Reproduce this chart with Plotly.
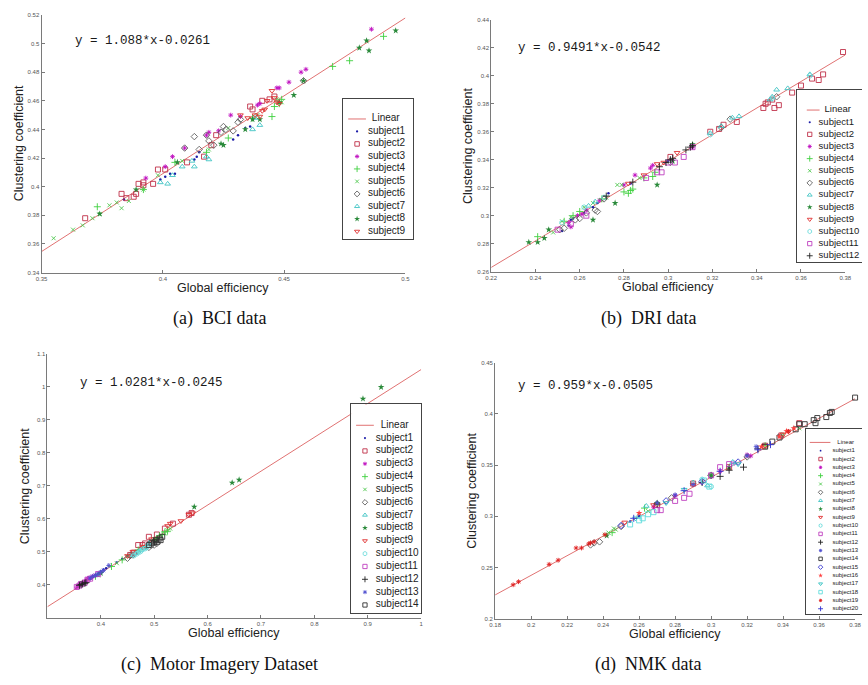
import plotly.graph_objects as go

FIG_W, FIG_H = 868, 685

# ---------------- data: (a) BCI data ----------------
BCI_NAMES = ["subject1", "subject2", "subject3", "subject4", "subject5",
             "subject6", "subject7", "subject8", "subject9"]
BCI_X = [
    [0.384, 0.399, 0.401, 0.403, 0.405, 0.413, 0.414, 0.415, 0.429, 0.431, 0.434, 0.436],
    [0.368, 0.383, 0.385, 0.388, 0.389, 0.390, 0.392, 0.392, 0.396, 0.398, 0.401, 0.410, 0.417, 0.420, 0.422, 0.436, 0.437, 0.441, 0.444, 0.446],
    [0.393, 0.401, 0.404, 0.409, 0.418, 0.419, 0.423, 0.428, 0.432, 0.439, 0.440, 0.447, 0.448, 0.452, 0.457, 0.459, 0.486],
    [0.373, 0.392, 0.405, 0.418, 0.427, 0.437, 0.445, 0.446, 0.448, 0.449, 0.470, 0.477, 0.491],
    [0.355, 0.363, 0.367, 0.371, 0.374, 0.378, 0.381, 0.383, 0.386, 0.392, 0.398, 0.408, 0.419, 0.427, 0.439, 0.447, 0.449],
    [0.409, 0.413, 0.415, 0.418, 0.419, 0.421, 0.424, 0.425, 0.426, 0.429, 0.431, 0.432, 0.458],
    [0.399, 0.402, 0.404, 0.408, 0.412, 0.413, 0.418, 0.419, 0.437, 0.440, 0.438],
    [0.374, 0.389, 0.406, 0.424, 0.425, 0.434, 0.437, 0.440, 0.448, 0.454, 0.458, 0.481, 0.484, 0.485, 0.496],
    [0.432, 0.435, 0.438, 0.440, 0.441, 0.442, 0.443, 0.445, 0.446, 0.447, 0.448],
]
BCI_Y = [
    [0.391, 0.405, 0.407, 0.409, 0.409, 0.419, 0.421, 0.424, 0.433, 0.436, 0.441, 0.442],
    [0.378, 0.395, 0.392, 0.393, 0.395, 0.402, 0.403, 0.401, 0.402, 0.412, 0.412, 0.417, 0.421, 0.429, 0.436, 0.456, 0.454, 0.460, 0.461, 0.463],
    [0.406, 0.414, 0.421, 0.427, 0.436, 0.438, 0.439, 0.450, 0.449, 0.457, 0.458, 0.469, 0.469, 0.473, 0.480, 0.482, 0.510],
    [0.386, 0.398, 0.417, 0.424, 0.434, 0.448, 0.449, 0.456, 0.458, 0.461, 0.484, 0.488, 0.505],
    [0.364, 0.370, 0.373, 0.378, 0.381, 0.387, 0.389, 0.385, 0.390, 0.398, 0.408, 0.418, 0.426, 0.441, 0.450, 0.461, 0.459],
    [0.427, 0.435, 0.426, 0.436, 0.432, 0.429, 0.438, 0.442, 0.440, 0.439, 0.445, 0.447, 0.474],
    [0.403, 0.402, 0.408, 0.414, 0.418, 0.414, 0.421, 0.419, 0.440, 0.443, 0.448],
    [0.381, 0.398, 0.417, 0.430, 0.429, 0.440, 0.447, 0.447, 0.459, 0.464, 0.474, 0.497, 0.502, 0.495, 0.509],
    [0.450, 0.448, 0.450, 0.449, 0.453, 0.454, 0.460, 0.467, 0.462, 0.459, 0.458],
]
BCI_LINE_X = [0.35, 0.50]
BCI_LINE_Y = [0.3547, 0.5179]
BCI_XTICKS = [0.35, 0.4, 0.45, 0.5]
BCI_YTICKS = [0.34, 0.36, 0.38, 0.40, 0.42, 0.44, 0.46, 0.48, 0.50, 0.52]
BCI_YTEXT = ["0.34", "0.36", "0.38", "0.4", "0.42", "0.44", "0.46", "0.48", "0.5", "0.52"]

# ---------------- data: (b) DRI data ----------------
DRI_NAMES = ["subject1", "subject2", "subject3", "subject4", "subject5", "subject6",
             "subject7", "subject8", "subject9", "subject10", "subject11", "subject12"]
DRI_X = [
    [0.252, 0.255, 0.256, 0.257, 0.262, 0.266, 0.268, 0.273, 0.283, 0.300],
    [0.301, 0.319, 0.323, 0.325, 0.331, 0.343, 0.344, 0.345, 0.347, 0.348, 0.350, 0.356, 0.360, 0.365, 0.368, 0.370, 0.379],
    [0.255, 0.256, 0.259, 0.261, 0.263, 0.269, 0.280, 0.285, 0.292, 0.293, 0.311],
    [0.241, 0.253, 0.257, 0.260, 0.270, 0.280, 0.282, 0.283, 0.284, 0.289, 0.293, 0.294],
    [0.248, 0.252, 0.256, 0.262, 0.266, 0.272, 0.277, 0.279, 0.287],
    [0.251, 0.253, 0.258, 0.260, 0.263, 0.267, 0.268, 0.271, 0.301, 0.324, 0.328, 0.349],
    [0.264, 0.267, 0.319, 0.324, 0.329, 0.332, 0.346, 0.347, 0.349, 0.354, 0.364],
    [0.237, 0.241, 0.244, 0.246, 0.266, 0.276, 0.295, 0.311, 0.302],
    [0.282, 0.289, 0.295, 0.304, 0.298],
    [0.252, 0.262, 0.271, 0.319, 0.347, 0.364],
    [0.250, 0.256, 0.263, 0.290, 0.295, 0.297, 0.300, 0.303, 0.307, 0.311],
    [0.296, 0.299, 0.301, 0.302, 0.308, 0.310, 0.311, 0.284, 0.272],
]
DRI_Y = [
    [0.289, 0.293, 0.297, 0.298, 0.302, 0.306, 0.309, 0.316, 0.323, 0.339],
    [0.342, 0.360, 0.362, 0.365, 0.367, 0.377, 0.380, 0.381, 0.383, 0.377, 0.379, 0.388, 0.393, 0.398, 0.397, 0.401, 0.417],
    [0.295, 0.292, 0.300, 0.301, 0.304, 0.311, 0.322, 0.329, 0.334, 0.336, 0.349],
    [0.285, 0.296, 0.300, 0.303, 0.312, 0.317, 0.316, 0.318, 0.319, 0.327, 0.328, 0.331],
    [0.288, 0.296, 0.299, 0.306, 0.309, 0.313, 0.322, 0.322, 0.327],
    [0.290, 0.291, 0.297, 0.298, 0.302, 0.304, 0.303, 0.312, 0.338, 0.363, 0.369, 0.385],
    [0.307, 0.310, 0.359, 0.364, 0.370, 0.371, 0.383, 0.385, 0.390, 0.391, 0.401],
    [0.281, 0.281, 0.284, 0.290, 0.297, 0.309, 0.322, 0.351, 0.339],
    [0.323, 0.329, 0.337, 0.345, 0.338],
    [0.295, 0.306, 0.313, 0.358, 0.384, 0.400],
    [0.290, 0.294, 0.300, 0.327, 0.331, 0.331, 0.338, 0.338, 0.342, 0.349],
    [0.335, 0.338, 0.340, 0.341, 0.347, 0.349, 0.350, 0.324, 0.314],
]
DRI_LINE_X = [0.22, 0.38]
DRI_LINE_Y = [0.2630, 0.4149]
DRI_XTICKS = [0.22, 0.24, 0.26, 0.28, 0.30, 0.32, 0.34, 0.36, 0.38]
DRI_XTEXT = ["0.22", "0.24", "0.26", "0.28", "0.3", "0.32", "0.34", "0.36", "0.38"]
DRI_YTICKS = [0.26, 0.28, 0.30, 0.32, 0.34, 0.36, 0.38, 0.40, 0.42, 0.44]
DRI_YTEXT = ["0.26", "0.28", "0.3", "0.32", "0.34", "0.36", "0.38", "0.4", "0.42", "0.44"]

# ---------------- data: (c) Motor Imagery Dataset ----------------
MI_NAMES = ["subject1", "subject2", "subject3", "subject4", "subject5", "subject6", "subject7",
            "subject8", "subject9", "subject10", "subject11", "subject12", "subject13", "subject14"]
MI_X = [
    [0.372, 0.380, 0.385, 0.390, 0.395, 0.400, 0.405, 0.410, 0.430, 0.440],
    [0.455, 0.462, 0.470, 0.478, 0.483, 0.490, 0.505, 0.520, 0.535, 0.565, 0.570],
    [0.355, 0.360, 0.365, 0.370, 0.375, 0.380, 0.385, 0.390],
    [0.390, 0.420, 0.440, 0.470, 0.500, 0.505, 0.510, 0.515, 0.520, 0.525],
    [0.395, 0.430, 0.450, 0.480, 0.500, 0.520, 0.525, 0.530],
    [0.450, 0.455, 0.460, 0.490, 0.495, 0.500, 0.505],
    [0.460, 0.465, 0.470, 0.475, 0.480, 0.485, 0.490],
    [0.400, 0.575, 0.646, 0.659, 0.891, 0.925],
    [0.450, 0.460, 0.480, 0.495, 0.525, 0.530, 0.550, 0.565, 0.572],
    [0.462, 0.468, 0.474, 0.478, 0.484, 0.488],
    [0.355, 0.360, 0.363, 0.370, 0.375, 0.380, 0.395],
    [0.360, 0.363, 0.366, 0.370, 0.372, 0.500],
    [0.380, 0.385, 0.390, 0.395, 0.400, 0.405, 0.415],
    [0.490, 0.495, 0.500, 0.503, 0.506, 0.510, 0.512, 0.515],
]
MI_Y = [
    [0.410, 0.418, 0.424, 0.430, 0.434, 0.440, 0.446, 0.450, 0.467, 0.478],
    [0.490, 0.497, 0.520, 0.520, 0.525, 0.545, 0.552, 0.570, 0.585, 0.612, 0.617],
    [0.392, 0.398, 0.405, 0.410, 0.418, 0.420, 0.425, 0.428],
    [0.425, 0.455, 0.475, 0.505, 0.535, 0.540, 0.548, 0.552, 0.560, 0.562],
    [0.428, 0.465, 0.485, 0.515, 0.538, 0.555, 0.565, 0.570],
    [0.480, 0.488, 0.490, 0.513, 0.520, 0.520, 0.525],
    [0.490, 0.495, 0.500, 0.505, 0.510, 0.515, 0.525],
    [0.435, 0.636, 0.709, 0.718, 0.964, 0.999],
    [0.487, 0.500, 0.515, 0.538, 0.578, 0.585, 0.593, 0.612, 0.617],
    [0.488, 0.494, 0.500, 0.506, 0.510, 0.518],
    [0.393, 0.397, 0.402, 0.406, 0.415, 0.418, 0.432],
    [0.398, 0.400, 0.402, 0.404, 0.406, 0.530],
    [0.420, 0.425, 0.428, 0.432, 0.438, 0.443, 0.458],
    [0.520, 0.527, 0.528, 0.535, 0.530, 0.540, 0.535, 0.545],
]
MI_LINE_X = [0.30, 1.00]
MI_LINE_Y = [0.3329, 1.0526]
MI_XTICKS = [0.4, 0.5, 0.6, 0.7, 0.8, 0.9, 1.0]
MI_XTEXT = ["0.4", "0.5", "0.6", "0.7", "0.8", "0.9", "1"]
MI_YTICKS = [0.4, 0.5, 0.6, 0.7, 0.8, 0.9, 1.0, 1.1]
MI_YTEXT = ["0.4", "0.5", "0.6", "0.7", "0.8", "0.9", "1", "1.1"]

# ---------------- data: (d) NMK data ----------------
NMK_NAMES = ["subject1", "subject2", "subject3", "subject4", "subject5", "subject6", "subject7",
             "subject8", "subject9", "subject10", "subject11", "subject12", "subject13", "subject14",
             "subject15", "subject16", "subject17", "subject18", "subject19", "subject20"]
NMK_X = [
    [0.255, 0.260, 0.280, 0.300, 0.310],
    [0.349, 0.339, 0.330, 0.310, 0.290, 0.270],
    [0.320, 0.322, 0.313, 0.305, 0.295, 0.280, 0.268],
    [0.263, 0.245, 0.300, 0.330],
    [0.241, 0.243, 0.246, 0.247, 0.265, 0.340, 0.349],
    [0.233, 0.235, 0.238, 0.250, 0.278, 0.300, 0.320],
    [0.298, 0.264, 0.312, 0.290],
    [0.242, 0.270, 0.300, 0.310],
    [0.343, 0.340, 0.330, 0.290, 0.268, 0.252],
    [0.295, 0.300, 0.260, 0.312],
    [0.270, 0.272, 0.280, 0.285, 0.288, 0.300, 0.305, 0.310],
    [0.305, 0.310, 0.318, 0.326, 0.295, 0.270],
    [0.270, 0.280, 0.290, 0.320, 0.325],
    [0.330, 0.334, 0.338, 0.347, 0.352, 0.357, 0.358, 0.359, 0.364, 0.366, 0.367, 0.380, 0.349],
    [0.250, 0.275, 0.295, 0.315],
    [0.338, 0.342, 0.346, 0.328, 0.260],
    [0.258, 0.275, 0.315, 0.285],
    [0.255, 0.260, 0.262, 0.265, 0.268, 0.296, 0.299],
    [0.190, 0.193, 0.210, 0.215, 0.225, 0.228, 0.232, 0.233, 0.235, 0.241, 0.343],
    [0.257, 0.285, 0.305, 0.326, 0.333],
]
NMK_Y = [
    [0.295, 0.300, 0.320, 0.338, 0.347],
    [0.391, 0.379, 0.369, 0.348, 0.332, 0.311],
    [0.360, 0.359, 0.352, 0.344, 0.333, 0.320, 0.309],
    [0.308, 0.284, 0.340, 0.369],
    [0.282, 0.284, 0.288, 0.287, 0.305, 0.380, 0.386],
    [0.272, 0.274, 0.275, 0.290, 0.318, 0.340, 0.358],
    [0.330, 0.310, 0.353, 0.333],
    [0.281, 0.313, 0.340, 0.348],
    [0.383, 0.380, 0.369, 0.331, 0.311, 0.294],
    [0.336, 0.329, 0.300, 0.352],
    [0.306, 0.306, 0.315, 0.318, 0.322, 0.340, 0.348, 0.351],
    [0.339, 0.345, 0.348, 0.366, 0.333, 0.312],
    [0.313, 0.321, 0.331, 0.359, 0.368],
    [0.368, 0.373, 0.377, 0.385, 0.390, 0.394, 0.391, 0.396, 0.397, 0.401, 0.402, 0.416, 0.390],
    [0.291, 0.315, 0.334, 0.353],
    [0.378, 0.383, 0.386, 0.368, 0.303],
    [0.298, 0.313, 0.351, 0.326],
    [0.292, 0.296, 0.298, 0.302, 0.304, 0.335, 0.329],
    [0.233, 0.236, 0.253, 0.257, 0.269, 0.269, 0.273, 0.274, 0.275, 0.282, 0.383],
    [0.298, 0.325, 0.344, 0.365, 0.370],
]
NMK_LINE_X = [0.18, 0.38]
NMK_LINE_Y = [0.2231, 0.4149]
NMK_XTICKS = [0.18, 0.20, 0.22, 0.24, 0.26, 0.28, 0.30, 0.32, 0.34, 0.36, 0.38]
NMK_XTEXT = ["0.18", "0.2", "0.22", "0.24", "0.26", "0.28", "0.3", "0.32", "0.34", "0.36", "0.38"]
NMK_YTICKS = [0.20, 0.25, 0.30, 0.35, 0.40, 0.45]
NMK_YTEXT = ["0.2", "0.25", "0.3", "0.35", "0.4", "0.45"]

# ---------------- styles (MATLAB-like markers) ----------------
SUBJECT_STYLES = [
    ("circle", "#1c1ca8", 2.5),
    ("square-open", "#c03048", 5),
    ("asterisk-open", "#c010c0", 4),
    ("cross-thin-open", "#40d040", 5),
    ("x-thin-open", "#50c850", 4),
    ("diamond-open", "#606060", 5),
    ("triangle-up-open", "#40c4c4", 5),
    ("star", "#2a8a3a", 5),
    ("triangle-down-open", "#e03030", 5),
    ("hexagon-open", "#70dcdc", 5),
    ("square-open", "#c040c0", 5),
    ("cross-thin-open", "#202020", 5),
    ("asterisk-open", "#5050d0", 4),
    ("square-open", "#303030", 5),
    ("diamond-open", "#3a3ad0", 5),
    ("star", "#ff4040", 5),
    ("triangle-down-open", "#30c0c0", 5),
    ("square-open", "#60dcdc", 5),
    ("asterisk-open", "#e02020", 4),
    ("cross-thin-open", "#3030d0", 5),
]
LINE_COLOR = "#e07272"
AXIS_COLOR = "#7a7a7a"
TICK_FONT = dict(family="Liberation Sans", size=6, color="#555555")
LABEL_FONT = dict(family="Liberation Sans", size=12.5, color="#222222")

PANELS = [
    dict(names=BCI_NAMES, xs=BCI_X, ys=BCI_Y, lx=BCI_LINE_X, ly=BCI_LINE_Y,
         xr=[0.35, 0.5], yr=[0.34, 0.52],
         xt=BCI_XTICKS, xtt=["0.35", "0.4", "0.45", "0.5"], yt=BCI_YTICKS, ytt=BCI_YTEXT,
         box=(36, 12, 405, 272), eq="y = 1.088*x-0.0261", eqpos=(68, 38),
         cap="(a)  BCI data", cappos=(216, 318),
         leg=dict(box=(342, 97, 413, 238), first=117, step=12.6, mx=356, tx=367,
                  l0=347, l1=365, ltx=371, fs=10, ms=0.9, cut=False)),
    dict(names=DRI_NAMES, xs=DRI_X, ys=DRI_Y, lx=DRI_LINE_X, ly=DRI_LINE_Y,
         xr=[0.22, 0.38], yr=[0.26, 0.44],
         xt=DRI_XTICKS, xtt=DRI_XTEXT, yt=DRI_YTICKS, ytt=DRI_YTEXT,
         box=(492, 17, 851, 271), eq="y = 0.9491*x-0.0542", eqpos=(517, 45),
         cap="(b)  DRI data", cappos=(651, 318),
         leg=dict(box=(802, 88, 880, 261), first=108, step=12.25, mx=815, tx=824,
                  l0=812, l1=825, ltx=830, fs=9.5, ms=0.85, cut=True)),
    dict(names=MI_NAMES, xs=MI_X, ys=MI_Y, lx=MI_LINE_X, ly=MI_LINE_Y,
         xr=[0.3, 1.0], yr=[0.3, 1.1],
         xt=MI_XTICKS, xtt=MI_XTEXT, yt=MI_YTICKS, ytt=MI_YTEXT,
         box=(42, 354, 421, 620), eq="y = 1.0281*x-0.0245", eqpos=(73, 383),
         cap="(c)  Motor Imagery Dataset", cappos=(216, 667),
         leg=dict(box=(350, 405, 421, 615), first=426, step=12.95, mx=364, tx=375,
                  l0=355, l1=373, ltx=380, fs=10, ms=0.85, cut=False)),
    dict(names=NMK_NAMES, xs=NMK_X, ys=NMK_Y, lx=NMK_LINE_X, ly=NMK_LINE_Y,
         xr=[0.18, 0.38], yr=[0.2, 0.45],
         xt=NMK_XTICKS, xtt=NMK_XTEXT, yt=NMK_YTICKS, ytt=NMK_YTEXT,
         box=(496, 363, 861, 621), eq="y = 0.959*x-0.0505", eqpos=(517, 386),
         cap="(d)  NMK data", cappos=(651, 667),
         leg=dict(box=(811, 430, 880, 616), first=443.3, step=8.39, mx=826, tx=838,
                  l0=815, l1=836, ltx=843, fs=6, ms=0.7, cut=True)),
]


def px_x(p):
    return p / FIG_W


def px_y(p):
    return 1 - p / FIG_H


fig = go.Figure()
layout = dict(
    width=FIG_W, height=FIG_H, margin=dict(l=0, r=0, t=0, b=0),
    paper_bgcolor="#ffffff", plot_bgcolor="white", showlegend=False,
)
annotations = []

for k, P in enumerate(PANELS, start=1):
    xa = "x" if k == 1 else f"x{k}"
    ya = "y" if k == 1 else f"y{k}"
    xkey = "xaxis" if k == 1 else f"xaxis{k}"
    ykey = "yaxis" if k == 1 else f"yaxis{k}"
    L, T, R, B = P["box"]

    fig.add_trace(go.Scatter(x=P["lx"], y=P["ly"], mode="lines",
                             line=dict(color=LINE_COLOR, width=1),
                             xaxis=xa, yaxis=ya, hoverinfo="skip"))
    for i, name in enumerate(P["names"]):
        sym, col, size = SUBJECT_STYLES[i]
        fig.add_trace(go.Scatter(
            x=P["xs"][i], y=P["ys"][i], mode="markers", name=name,
            marker=dict(symbol=sym, color=col, size=size,
                        line=dict(color=col, width=0.9 if "open" in sym else 0)),
            xaxis=xa, yaxis=ya, cliponaxis=False))

    common = dict(showgrid=False, zeroline=False, showline=True, linecolor=AXIS_COLOR,
                  linewidth=1, ticks="inside", ticklen=3, tickcolor=AXIS_COLOR,
                  tickfont=TICK_FONT, fixedrange=True, mirror=False)
    layout[xkey] = dict(common, domain=[px_x(L), px_x(R)], range=P["xr"],
                        tickvals=P["xt"], ticktext=P["xtt"], anchor=ya)
    layout[ykey] = dict(common, domain=[px_y(B), px_y(T)], range=P["yr"],
                        tickvals=P["yt"], ticktext=P["ytt"], anchor=xa)

    # axis titles, equation, caption
    annotations.append(dict(text="Global efficiency", xref=f"{xa} domain", yref=f"{ya} domain",
                            x=0.5, y=0, yshift=-15, showarrow=False, font=LABEL_FONT,
                            xanchor="center", yanchor="middle"))
    annotations.append(dict(text="Clustering coefficient", xref=f"{xa} domain", yref=f"{ya} domain",
                            x=0, y=0.5, xshift=-23, showarrow=False, font=LABEL_FONT,
                            textangle=-90, xanchor="center", yanchor="middle"))
    annotations.append(dict(text=P["eq"], xref="paper", yref="paper",
                            x=px_x(P["eqpos"][0]), y=px_y(P["eqpos"][1]), showarrow=False,
                            xanchor="left", yanchor="middle",
                            font=dict(family="Liberation Mono", size=12.5, color="#1a1a1a")))
    annotations.append(dict(text=P["cap"], xref="paper", yref="paper",
                            x=px_x(P["cappos"][0]), y=px_y(P["cappos"][1]), showarrow=False,
                            xanchor="center", yanchor="middle",
                            font=dict(family="Liberation Serif", size=18, color="#111111")))

    # ---- legend drawn as a small subplot with a white background ----
    G = P["leg"]
    lk = k + 4
    lxa, lya = f"x{lk}", f"y{lk}"
    gL, gT, gR, gB = G["box"]
    gRc = min(gR, FIG_W)
    cats = ["Linear"] + P["names"]
    top_val = -(G["first"] - gT) / G["step"]
    bot_val = top_val + (gB - gT) / G["step"]
    layout[f"xaxis{lk}"] = dict(domain=[px_x(gL), px_x(gRc)], range=[gL, gRc],
                                showgrid=False, zeroline=False, showticklabels=False,
                                ticks="", showline=True, mirror=True, linecolor="#444444",
                                linewidth=1, fixedrange=True, anchor=lya)
    layout[f"yaxis{lk}"] = dict(domain=[px_y(gB), px_y(gT)], range=[bot_val, top_val],
                                type="category", categoryorder="array", categoryarray=cats,
                                showgrid=False, zeroline=False, showticklabels=False,
                                ticks="", showline=True, mirror=not G["cut"],
                                linecolor="#444444", linewidth=1, fixedrange=True, anchor=lxa)
    fig.add_trace(go.Scatter(x=[G["l0"], G["l1"]], y=["Linear", "Linear"], mode="lines",
                             line=dict(color=LINE_COLOR, width=1), xaxis=lxa, yaxis=lya,
                             hoverinfo="skip", cliponaxis=False))
    fig.add_trace(go.Scatter(x=[G["ltx"]], y=["Linear"], mode="text", text=["Linear"],
                             textposition="middle right",
                             textfont=dict(family="Liberation Sans", size=G["fs"], color="#222222"),
                             xaxis=lxa, yaxis=lya, hoverinfo="skip", cliponaxis=False))
    for i, name in enumerate(P["names"]):
        sym, col, size = SUBJECT_STYLES[i]
        fig.add_trace(go.Scatter(
            x=[G["mx"]], y=[name], mode="markers",
            marker=dict(symbol=sym, color=col, size=size * G["ms"],
                        line=dict(color=col, width=0.9 if "open" in sym else 0)),
            xaxis=lxa, yaxis=lya, hoverinfo="skip", cliponaxis=False))
    fig.add_trace(go.Scatter(x=[G["tx"]] * len(P["names"]), y=P["names"], mode="text",
                             text=P["names"], textposition="middle right",
                             textfont=dict(family="Liberation Sans", size=G["fs"], color="#222222"),
                             xaxis=lxa, yaxis=lya, hoverinfo="skip", cliponaxis=False))

layout["annotations"] = annotations
fig.update_layout(**layout)
fig.write_html("out.html")
